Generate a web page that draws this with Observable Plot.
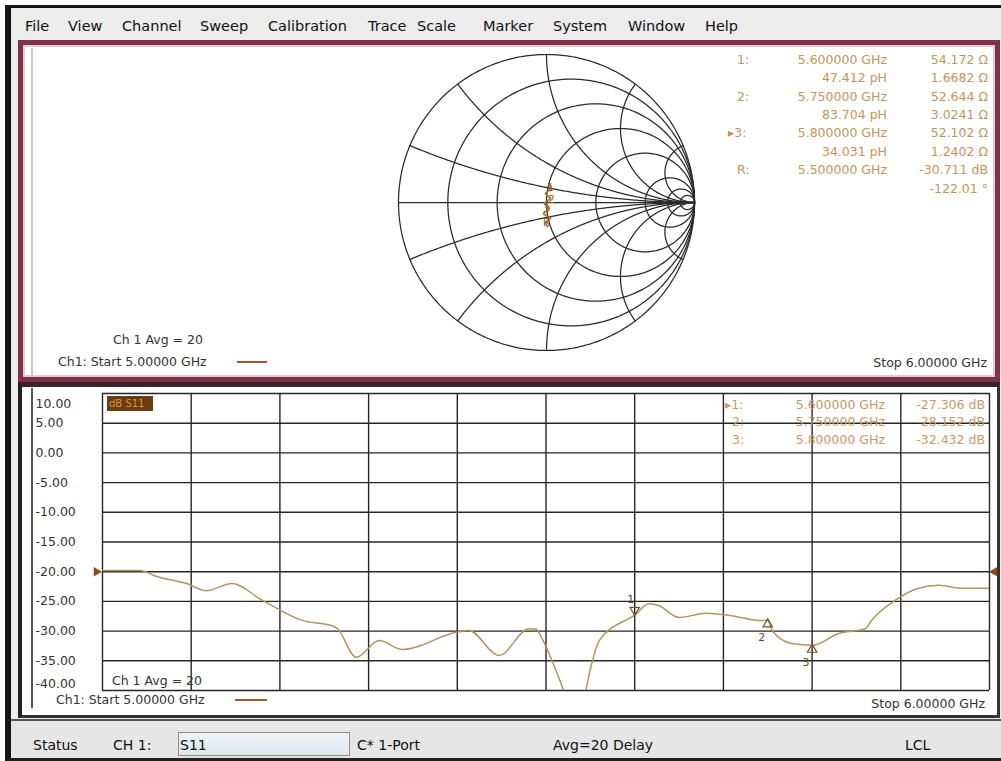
<!DOCTYPE html>
<html><head><meta charset="utf-8">
<script src="https://cdn.jsdelivr.net/npm/d3@7"></script>
<script src="https://cdn.jsdelivr.net/npm/@observablehq/plot@0.6"></script>
<style>
html,body{margin:0;padding:0;width:1001px;height:761px;overflow:hidden;background:#fff;font-family:"DejaVu Sans",sans-serif;}
#root{position:relative;width:1001px;height:761px;}
.abs{position:absolute;white-space:nowrap;box-sizing:border-box;}
</style></head><body>
<div id="root"></div>
<script>
// ---------------- DATA ----------------
const menuItems = ["File","View","Channel","Sweep","Calibration","Trace","Scale","Marker","System","Window","Help"];

// S11 log-magnitude trace (GHz, dB)
const freqGHz = [5.000,5.042,5.061,5.095,5.117,5.146,5.180,5.225,5.259,5.265,5.286,5.312,5.338,5.399,5.413,5.447,5.481,5.489,5.495,5.509,5.521,5.532,5.544,5.551,5.560,5.593,5.600,5.616,5.627,5.650,5.680,5.709,5.740,5.750,5.755,5.777,5.800,5.830,5.860,5.867,5.894,5.920,5.943,5.968,6.000];
const s11dB   = [-19.8,-19.8,-20.8,-22.0,-23.2,-22.0,-24.8,-28.2,-29.1,-29.6,-34.4,-31.6,-33.1,-30.2,-29.9,-34.1,-29.6,-29.7,-31.1,-35.8,-40.5,-46.0,-40.5,-35.8,-31.6,-27.9,-27.3,-25.4,-25.7,-27.7,-27.0,-27.4,-28.2,-28.2,-29.9,-32.1,-32.4,-30.4,-29.6,-28.2,-24.8,-22.8,-22.3,-22.8,-22.8];

const markerIds = ["1","2","3"];
const markerFreqGHz = [5.6,5.75,5.8];
const markerDB = [-27.306,-28.152,-32.432];
const markerFreqText = ["5.600000 GHz","5.750000 GHz","5.800000 GHz"];
const markerDBText = ["-27.306 dB","-28.152 dB","-32.432 dB"];
const bottomMarkerNames = ["\u25B81:","2:","3:"];

const yTicks = [10,5,0,-5,-10,-15,-20,-25,-30,-35,-40];
const xTicksGHz = [5.0,5.1,5.2,5.3,5.4,5.5,5.6,5.7,5.8,5.9,6.0];
const refLevelDB = -20;

// Smith chart grid values (normalised resistance / reactance)
const smithResistances = [0,0.2,0.5,1,2,5,10,20];
const smithReactances = [0.2,0.5,1,2,5];
// Smith trace (reflection coefficient)
const smithTraceRe = [0.014,0.034,-0.007,0.027,-0.014,0.020,-0.020,0.027,-0.007,0.007];
const smithTraceIm = [0.128,0.095,0.061,0.027,-0.007,-0.041,-0.074,-0.108,-0.135,-0.162];
const smithMarkerNames = ["1","2","3","R"];
const smithMarkerRe = [0.027,0.034,0.0,0.0];
const smithMarkerIm = [0.101,0.020,-0.041,-0.135];

// Top marker table
const topNames = ["1:","","2:","","\u25B83:","","R:",""];
const topCol2 = ["5.600000 GHz","47.412 pH","5.750000 GHz","83.704 pH","5.800000 GHz","34.031 pH","5.500000 GHz",""];
const topCol3 = ["54.172 \u03A9","1.6682 \u03A9","52.644 \u03A9","3.0241 \u03A9","52.102 \u03A9","1.2402 \u03A9","-30.711 dB","-122.01 \u00B0"];

const avgText = "Ch 1 Avg = 20";
const startText = "Ch1: Start 5.00000 GHz";
const stopText = "Stop 6.00000 GHz";
const traceLabel = "dB S11";
const statusItems = ["Status","CH 1:","S11","C* 1-Port","Avg=20 Delay","LCL"];

// ---------------- LAYOUT ----------------
const root = document.getElementById("root");
function box(l,t,w,h,style){const d=document.createElement("div");d.className="abs";d.style.cssText+=`left:${l}px;top:${t}px;width:${w}px;height:${h}px;`+(style||"");root.appendChild(d);return d;}
function txt(s,x,y,fs,color,align,extra){
  const d=document.createElement("div");d.className="abs";d.textContent=s;
  let css=`top:${y-fs*0.5}px;font-size:${fs}px;line-height:${fs}px;color:${color};`;
  if(align==="right") css+=`right:${1001-x}px;text-align:right;`; else css+=`left:${x}px;`;
  d.style.cssText+=css+(extra||"");root.appendChild(d);return d;
}

// window frame
box(0,0,1001,761,"background:#fff;");
box(5,5,996,756,"background:#ececec;border-left:6px solid #141414;border-top:3px solid #141414;border-bottom:3px solid #222;");
// menu bar
const menuX=[25,68,122,200,268,368,417,483,553,628,705];
menuItems.forEach((m,i)=>txt(m,menuX[i],26,14.5,"#111","left"));
// top panel
box(18,40,982,342,"background:#fff;border:5px solid #7e3149;box-shadow:inset 0 0 0 2px #e8c8d0;");
box(31,48,2,328,"background:#c8c8c8;");
// bottom panel
box(18,382,982,336,"background:#fff;border-top:5px solid #3a2029;border-left:4px solid #222;border-right:3px solid #333;border-bottom:3px solid #333;");
box(31,388,2,320,"background:#555;");
// status bar
box(11,719,990,39,"background:#e6e6e6;border-top:2px solid #555;");

// ---------------- SMITH CHART ----------------
const smithGrid=[];
smithResistances.forEach(r=>{
  const c=r/(r+1), rad=1/(r+1);
  for(let k=0;k<=360;k++){const a=k*Math.PI/180;smithGrid.push({id:"r"+r,gx:c+rad*Math.cos(a),gy:rad*Math.sin(a)});}
});
smithReactances.forEach(xv=>[1,-1].forEach(s=>{
  const cy=s/xv, rad=1/xv;
  for(let k=0;k<=3600;k++){
    const t=k*Math.PI/1800, a=s===1?-Math.PI/2-t:Math.PI/2+t;
    const px=1+rad*Math.cos(a), py=cy+rad*Math.sin(a);
    if(k>0 && px*px+py*py>1) break;
    smithGrid.push({id:"x"+s*xv,gx:px,gy:py});
  }
}));
const smithTrace=smithTraceRe.map((re,i)=>({re,im:smithTraceIm[i]}));
const smithMk=smithMarkerNames.map((n,i)=>({n,re:smithMarkerRe[i],im:smithMarkerIm[i]}));
const smith=Plot.plot({
  width:300,height:300,margin:2,
  x:{domain:[-1,1],axis:null},y:{domain:[-1,1],axis:null},
  style:{background:"transparent",overflow:"visible"},
  marks:[
    Plot.line(smithGrid,{x:"gx",y:"gy",z:"id",stroke:"#2a2a2a",strokeWidth:1.25}),
    Plot.ruleY([0],{x1:-1,x2:1,stroke:"#2a2a2a",strokeWidth:1.25}),
    Plot.line(smithTrace,{x:"re",y:"im",stroke:"#b0742e",strokeWidth:1.8,curve:"catmull-rom"}),
    Plot.text(smithMk,{x:"re",y:"im",text:"n",fill:"#9a5a20",fontSize:10,fontFamily:"DejaVu Sans"})
  ]
});
const sw=box(396,52,300,300,"");sw.appendChild(smith);

topNames.forEach((n,i)=>{const y=60+i*18.4; if(n) txt(n,n.length>2?728:737,y,12.5,"#c4955a","left"); if(topCol2[i]) txt(topCol2[i],887,y,12.5,"#c4955a","right"); txt(topCol3[i],988,y,12.5,"#c4955a","right");});
txt(avgText,113,340,12.5,"#333","left");
txt(startText,58,362,12.5,"#333","left");
box(237,361,30,2,"background:#a0582a;");
txt(stopText,987,363,12.5,"#333","right");

// ---------------- S11 LOG MAG ----------------
const traceData=freqGHz.map((f,i)=>({f,db:s11dB[i]}));
const mk=markerIds.map((id,i)=>({id,f:markerFreqGHz[i],db:markerDB[i]}));
const midTicks=yTicks.filter(v=>v!==10&&v!==-40);
const lab={x:()=>5,y:d=>d,text:d=>d.toFixed(2),textAnchor:"start",dx:-67,fontSize:12.5,fill:"#333",fontFamily:"DejaVu Sans"};
const bottom=Plot.plot({
  width:1001,height:330,marginLeft:102,marginRight:12,marginTop:10,marginBottom:23,
  x:{domain:[5,6],axis:null},y:{domain:[-40,10],axis:null},
  style:{background:"transparent",overflow:"visible"},
  marks:[
    Plot.ruleX(xTicksGHz,{stroke:"#262626",strokeWidth:1.4}),
    Plot.ruleY(yTicks,{stroke:"#262626",strokeWidth:1.4}),
    Plot.text(midTicks,lab),
    Plot.text([10],{...lab,dy:10}),
    Plot.text([-40],{...lab,dy:-7}),
    Plot.line(traceData,{x:"f",y:"db",stroke:"#b09560",strokeWidth:1.5,curve:"monotone-x",clip:true}),
    Plot.dot([refLevelDB],{x:()=>5,y:d=>d,symbol:"triangle",rotate:90,r:3.5,fill:"#8a4a1a",stroke:"none",dx:-6}),
    Plot.dot([refLevelDB],{x:()=>6,y:d=>d,symbol:"triangle",rotate:-90,r:3.5,fill:"#8a4a1a",stroke:"none",dx:5}),
    Plot.dot(mk.slice(0,1),{x:"f",y:"db",symbol:"triangle",rotate:180,r:3.5,stroke:"#7a5020",strokeWidth:1.2,dy:-5}),
    Plot.text(mk.slice(0,1),{x:"f",y:"db",text:"id",dx:-4,dy:-16,fontSize:11,fill:"#6a4a20",fontFamily:"DejaVu Sans"}),
    Plot.dot(mk.slice(1),{x:"f",y:"db",symbol:"triangle",r:3.5,stroke:"#7a5020",strokeWidth:1.2,dy:4}),
    Plot.text(mk.slice(1),{x:"f",y:"db",text:"id",dx:-6,dy:17,fontSize:11,fill:"#6a4a20",fontFamily:"DejaVu Sans"})
  ]
});
const bw=box(0,383,1001,330,"");bw.appendChild(bottom);

box(107,396,46,15,"background:#6a3c12;");
txt(traceLabel,109,403.5,10,"#e09040","left");
bottomMarkerNames.forEach((n,i)=>{const y=405+i*17.5; txt(n,n.length>2?725:732,y,12.5,"#c69a66","left"); txt(markerFreqText[i],885,y,12.5,"#c69a66","right"); txt(markerDBText[i],985,y,12.5,"#c69a66","right");});
txt(avgText,112,681,12.5,"#333","left");
txt(startText,56,700,12.5,"#333","left");
box(235,699,32,2,"background:#a0582a;");
txt(stopText,985,704,12.5,"#333","right");

// status bar
box(178,732,172,24,"background:linear-gradient(#eef3f8,#dde7f0);border:1px solid #9c8a6a;");
const statusX=[33,113,180,357,553,905];
statusItems.forEach((s,i)=>txt(s,statusX[i],745,14,"#111","left"));
</script>
</body></html>
